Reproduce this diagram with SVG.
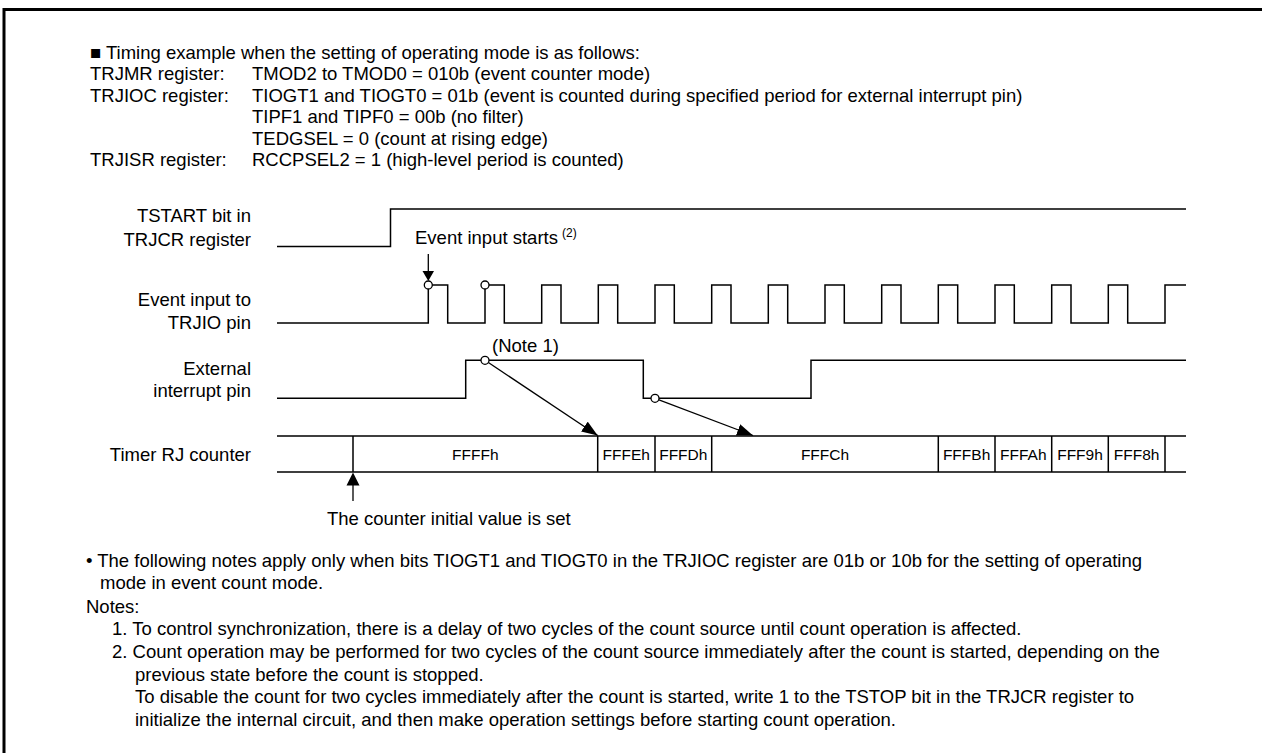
<svg xmlns="http://www.w3.org/2000/svg" width="1262" height="753" viewBox="0 0 1262 753">
<style>
text { font-family: "Liberation Sans", Arial, sans-serif; font-size: 18.5px; fill: #000; }
.lbl { text-anchor: end; }
.val { text-anchor: middle; font-size: 15.5px; }
.wave { fill: none; stroke: #000; stroke-width: 1.5; }
.conn { fill: none; stroke: #000; stroke-width: 1.3; }
.dot { fill: #fff; stroke: #000; stroke-width: 1.3; }
.sup { font-size: 12px; }
</style>
<defs>
<marker id="ah" markerUnits="userSpaceOnUse" markerWidth="17" markerHeight="12" refX="16" refY="6" orient="auto">
<path d="M0,0 L16,6 L0,12 z" fill="#000"/>
</marker>
</defs>
<rect width="1262" height="753" fill="#fff"/>
<rect x="4" y="9.5" width="1300" height="800" fill="none" stroke="#000" stroke-width="3"/>

<g id="header">
<text x="90" y="58.5">■ Timing example when the setting of operating mode is as follows:</text>
<text x="90" y="80">TRJMR register:</text>
<text x="252" y="80">TMOD2 to TMOD0 = 010b (event counter mode)</text>
<text x="90" y="101.5">TRJIOC register:</text>
<text x="252" y="101.5">TIOGT1 and TIOGT0 = 01b (event is counted during specified period for external interrupt pin)</text>
<text x="252" y="123">TIPF1 and TIPF0 = 00b (no filter)</text>
<text x="252" y="144.5">TEDGSEL = 0 (count at rising edge)</text>
<text x="90" y="166">TRJISR register:</text>
<text x="252" y="166">RCCPSEL2 = 1 (high-level period is counted)</text>
</g>

<g id="tstart">
<text class="lbl" x="251" y="222">TSTART bit in</text>
<text class="lbl" x="251" y="245.5">TRJCR register</text>
<path class="wave" d="M277,246.5 H390.5 V209 H1186"/>
</g>

<g id="event-input">
<text class="lbl" x="251" y="305.5">Event input to</text>
<text class="lbl" x="251" y="329">TRJIO pin</text>
<path class="wave" d="M277,323 H428.3 V285 H447.7 V323 H485 V285 H504.3 V323 H541.7 V285 H561 V323 H598.3 V285 H617.7 V323 H655 V285 H674.3 V323 H711.7 V285 H731 V323 H768.3 V285 H787.7 V323 H825 V285 H844.3 V323 H881.7 V285 H901 V323 H938.3 V285 H957.7 V323 H995 V285 H1014.3 V323 H1051.7 V285 H1071 V323 H1108.3 V285 H1127.7 V323 H1165 V285 H1186"/>
</g>

<g id="ext-int">
<text class="lbl" x="251" y="374.5">External</text>
<text class="lbl" x="251" y="397">interrupt pin</text>
<path class="wave" d="M277,398.3 H465.7 V360.3 H643.3 V398.3 H811 V360.3 H1186"/>
</g>

<g id="counter">
<text class="lbl" x="251" y="461">Timer RJ counter</text>
<path class="wave" d="M277,436 H1186 M277,472 H1186 M353,436 V472 M597.7,436 V472 M655,436 V472 M711.7,436 V472 M938.3,436 V472 M995,436 V472 M1051.7,436 V472 M1108.3,436 V472 M1165,436 V472"/>
<text class="val" x="475.3" y="460">FFFFh</text>
<text class="val" x="626.3" y="460">FFFEh</text>
<text class="val" x="683.3" y="460">FFFDh</text>
<text class="val" x="825" y="460">FFFCh</text>
<text class="val" x="966.6" y="460">FFFBh</text>
<text class="val" x="1023.3" y="460">FFFAh</text>
<text class="val" x="1080" y="460">FFF9h</text>
<text class="val" x="1136.6" y="460">FFF8h</text>
</g>

<g id="connectors">
<line class="conn" x1="428.3" y1="254" x2="428.3" y2="272"/>
<polygon points="422.5,271 434,271 428.3,281" fill="#000"/>
<line class="conn" x1="485" y1="360.3" x2="597.7" y2="435.5" marker-end="url(#ah)"/>
<line class="conn" x1="655" y1="398.3" x2="753" y2="435.5" marker-end="url(#ah)"/>
<line class="conn" x1="353" y1="483" x2="353" y2="501"/>
<polygon points="346.5,485.5 359.5,485.5 353,472.5" fill="#000"/>
</g>

<g id="markers">
<circle class="dot" cx="428.3" cy="285" r="4"/>
<circle class="dot" cx="485" cy="285" r="4"/>
<circle class="dot" cx="485" cy="360.3" r="4"/>
<circle class="dot" cx="655" cy="398.3" r="4"/>
</g>

<g id="annotations">
<text x="415" y="244.3">Event input starts</text>
<text class="sup" x="562" y="237">(2)</text>
<text x="492" y="352">(Note 1)</text>
<text x="327" y="525">The counter initial value is set</text>
</g>

<g id="notes">
<text x="86" y="566.5">• The following notes apply only when bits TIOGT1 and TIOGT0 in the TRJIOC register are 01b or 10b for the setting of operating</text>
<text x="100" y="589">mode in event count mode.</text>
<text x="86" y="612.5">Notes:</text>
<text x="112" y="635">1. To control synchronization, there is a delay of two cycles of the count source until count operation is affected.</text>
<text x="112" y="658">2. Count operation may be performed for two cycles of the count source immediately after the count is started, depending on the</text>
<text x="135" y="680.5">previous state before the count is stopped.</text>
<text x="135" y="703">To disable the count for two cycles immediately after the count is started, write 1 to the TSTOP bit in the TRJCR register to</text>
<text x="135" y="725.5">initialize the internal circuit, and then make operation settings before starting count operation.</text>
</g>
</svg>
